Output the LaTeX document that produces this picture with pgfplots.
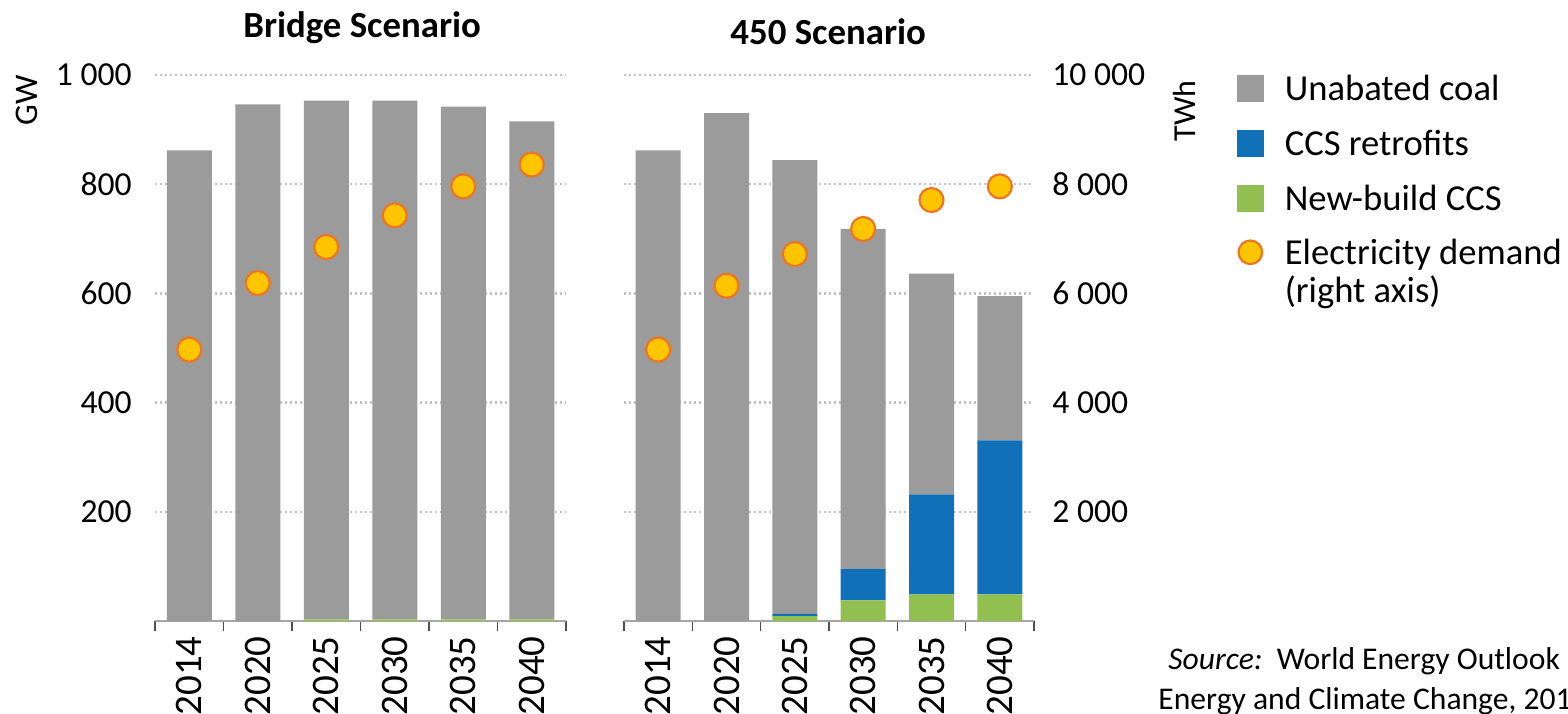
\documentclass[border=0pt]{standalone}
\usepackage{fontspec}
\setmainfont{Carlito}
\usepackage{pgfplots}
\usepackage{pgfplotstable}
\pgfplotsset{compat=1.18}
\definecolor{coalgray}{HTML}{9B9B9B}
\definecolor{ccsblue}{HTML}{1070B8}
\definecolor{ccsgreen}{HTML}{92C050}
\definecolor{demyellow}{HTML}{FFC600}
\definecolor{demorange}{HTML}{EE7522}
\definecolor{gridgray}{HTML}{C4C4C4}
\definecolor{axisgray}{HTML}{A6A6A6}
\definecolor{tickdark}{HTML}{505050}

\pgfplotstableread{
x newccs retro coal dem
0 0 0 862 4970
1 0 0 946 6190
2 3 0 950 6850
3 3 0 950 7430
4 3 0 939 7960
5 3 0 912 8360
}\bridge

\pgfplotstableread{
x newccs retro coal dem
0 0 0 862 4970
1 0 0 930 6140
2 9 4 831 6720
3 38 57 623 7180
4 49 183 404 7710
5 49 282 264 7960
}\fourfifty

\pgfplotsset{
  every axis title shift=0pt,
  panel/.style={
    scale only axis, height=273pt, anchor=south west,
    xmin=-0.5, xmax=5.5, ymin=0, ymax=1000,
    axis x line*=bottom, axis y line*=left,
    y axis line style={draw=none},
    x axis line style={draw=axisgray, line width=1.2pt, -},
    xtick={0,...,5}, xticklabels={2014,2020,2025,2030,2035,2040},
    minor xtick={-0.5,0.5,...,5.5},
    tick align=outside, major tick length=0pt, minor tick length=5pt,
    minor tick style={draw=tickdark, line width=0.8pt},
    ytick style={draw=none},
    ytick={200,400,600,800,1000}, yticklabels={200,400,600,800,1 000},
    scaled y ticks=false,
    ymajorgrids, major grid style={draw=gridgray, line width=1.2pt, dash pattern=on 1.2pt off 1.3pt},
    xticklabel style={rotate=90, anchor=east, inner sep=0pt, xshift=-7.5pt, font=\fontsize{19.5}{22}\selectfont},
    yticklabel style={inner sep=0pt, xshift=-11.5pt, font=\fontsize{16.8}{19}\selectfont},
    ybar stacked, bar width=22.5pt,
    title style={anchor=center, font=\bfseries\fontsize{18.4}{22}\selectfont},
  },
  demand/.style={
    scale only axis, height=273pt, anchor=south west,
    xmin=-0.5, xmax=5.5, ymin=0, ymax=10000, clip=false,
  },
  demmark/.style={only marks, mark=*, mark size=6pt,
    mark options={fill=demyellow, draw=demorange, line width=1.1pt}},
}

\begin{document}
\begin{tikzpicture}
\useasboundingbox (0,0) rectangle (784pt,356.5pt);

% Bridge scenario bars
\begin{axis}[panel, at={(77.5pt,46pt)}, width=205.5pt,
  title={Bridge Scenario}, title style={at={(axis description cs:0.504,1.086)}},
  ylabel={GW}, ylabel style={at={(axis description cs:-0.311,0.954)}, anchor=center, font=\fontsize{16.5}{19}\selectfont}]
\addplot[fill=ccsgreen, draw=none] table[x=x, y=newccs]{\bridge};
\addplot[fill=ccsblue, draw=none] table[x=x, y=retro]{\bridge};
\addplot[fill=coalgray, draw=none] table[x=x, y=coal]{\bridge};
\end{axis}
\begin{axis}[demand, at={(77.5pt,46pt)}, width=205.5pt, axis lines=none]
\addplot[demmark] table[x=x, y=dem]{\bridge};
\end{axis}

% 450 scenario bars
\begin{axis}[panel, at={(312pt,46pt)}, width=205pt, yticklabels={},
  title={450 Scenario}, title style={at={(axis description cs:0.498,1.079)}}]
\addplot[fill=ccsgreen, draw=none] table[x=x, y=newccs]{\fourfifty};
\addplot[fill=ccsblue, draw=none] table[x=x, y=retro]{\fourfifty};
\addplot[fill=coalgray, draw=none] table[x=x, y=coal]{\fourfifty};
\end{axis}
\begin{axis}[demand, at={(312pt,46pt)}, width=205pt,
  axis x line=none, axis y line*=right,
  y axis line style={draw=none}, ytick style={draw=none},
  ytick={2000,4000,6000,8000,10000}, yticklabels={2 000,4 000,6 000,8 000,10 000},
  scaled y ticks=false,
  yticklabel style={anchor=west, inner sep=0pt, xshift=9pt, font=\fontsize{16.8}{19}\selectfont},
  ylabel={TWh}, ylabel style={at={(axis description cs:1.368,0.934)}, anchor=center, font=\fontsize{16}{19}\selectfont},
  legend cell align=left,
  legend style={at={(axis description cs:1.4951,1.0)}, anchor=north west, draw=none, fill=none,
    inner sep=0pt, outer sep=0pt, row sep=14pt, column sep=10.5pt,
    font=\fontsize{18.3}{22}\selectfont,
    nodes={inner sep=0pt, text height=12pt, text depth=0pt}}]
\addlegendimage{legend image code/.code={\fill[coalgray] (0pt,-6.5pt) rectangle (13pt,6.5pt);}}
\addlegendentry{Unabated coal}
\addlegendimage{legend image code/.code={\fill[ccsblue] (0pt,-6.5pt) rectangle (13pt,6.5pt);}}
\addlegendentry{CCS retrofits}
\addlegendimage{legend image code/.code={\fill[ccsgreen] (0pt,-6.5pt) rectangle (13pt,6.5pt);}}
\addlegendentry{New-build CCS}
\addplot[demmark, legend image code/.code={\draw[fill=demyellow, draw=demorange, line width=1.1pt] (6.5pt,0pt) circle (5.9pt);}]
  table[x=x, y=dem]{\fourfifty};
\addlegendentry{\begin{tabular}[t]{@{}l@{}}Electricity demand\\[-3pt](right axis)\end{tabular}}
\end{axis}

\node[anchor=base west, inner sep=0pt, font=\fontsize{15.8}{19}\selectfont] at (584pt,22pt)
  {\textit{Source:}\ \ World Energy Outlook};
\node[anchor=base west, inner sep=0pt, font=\fontsize{15.8}{19}\selectfont] at (579pt,2pt)
  {Energy and Climate Change, 2015};
\end{tikzpicture}
\end{document}
